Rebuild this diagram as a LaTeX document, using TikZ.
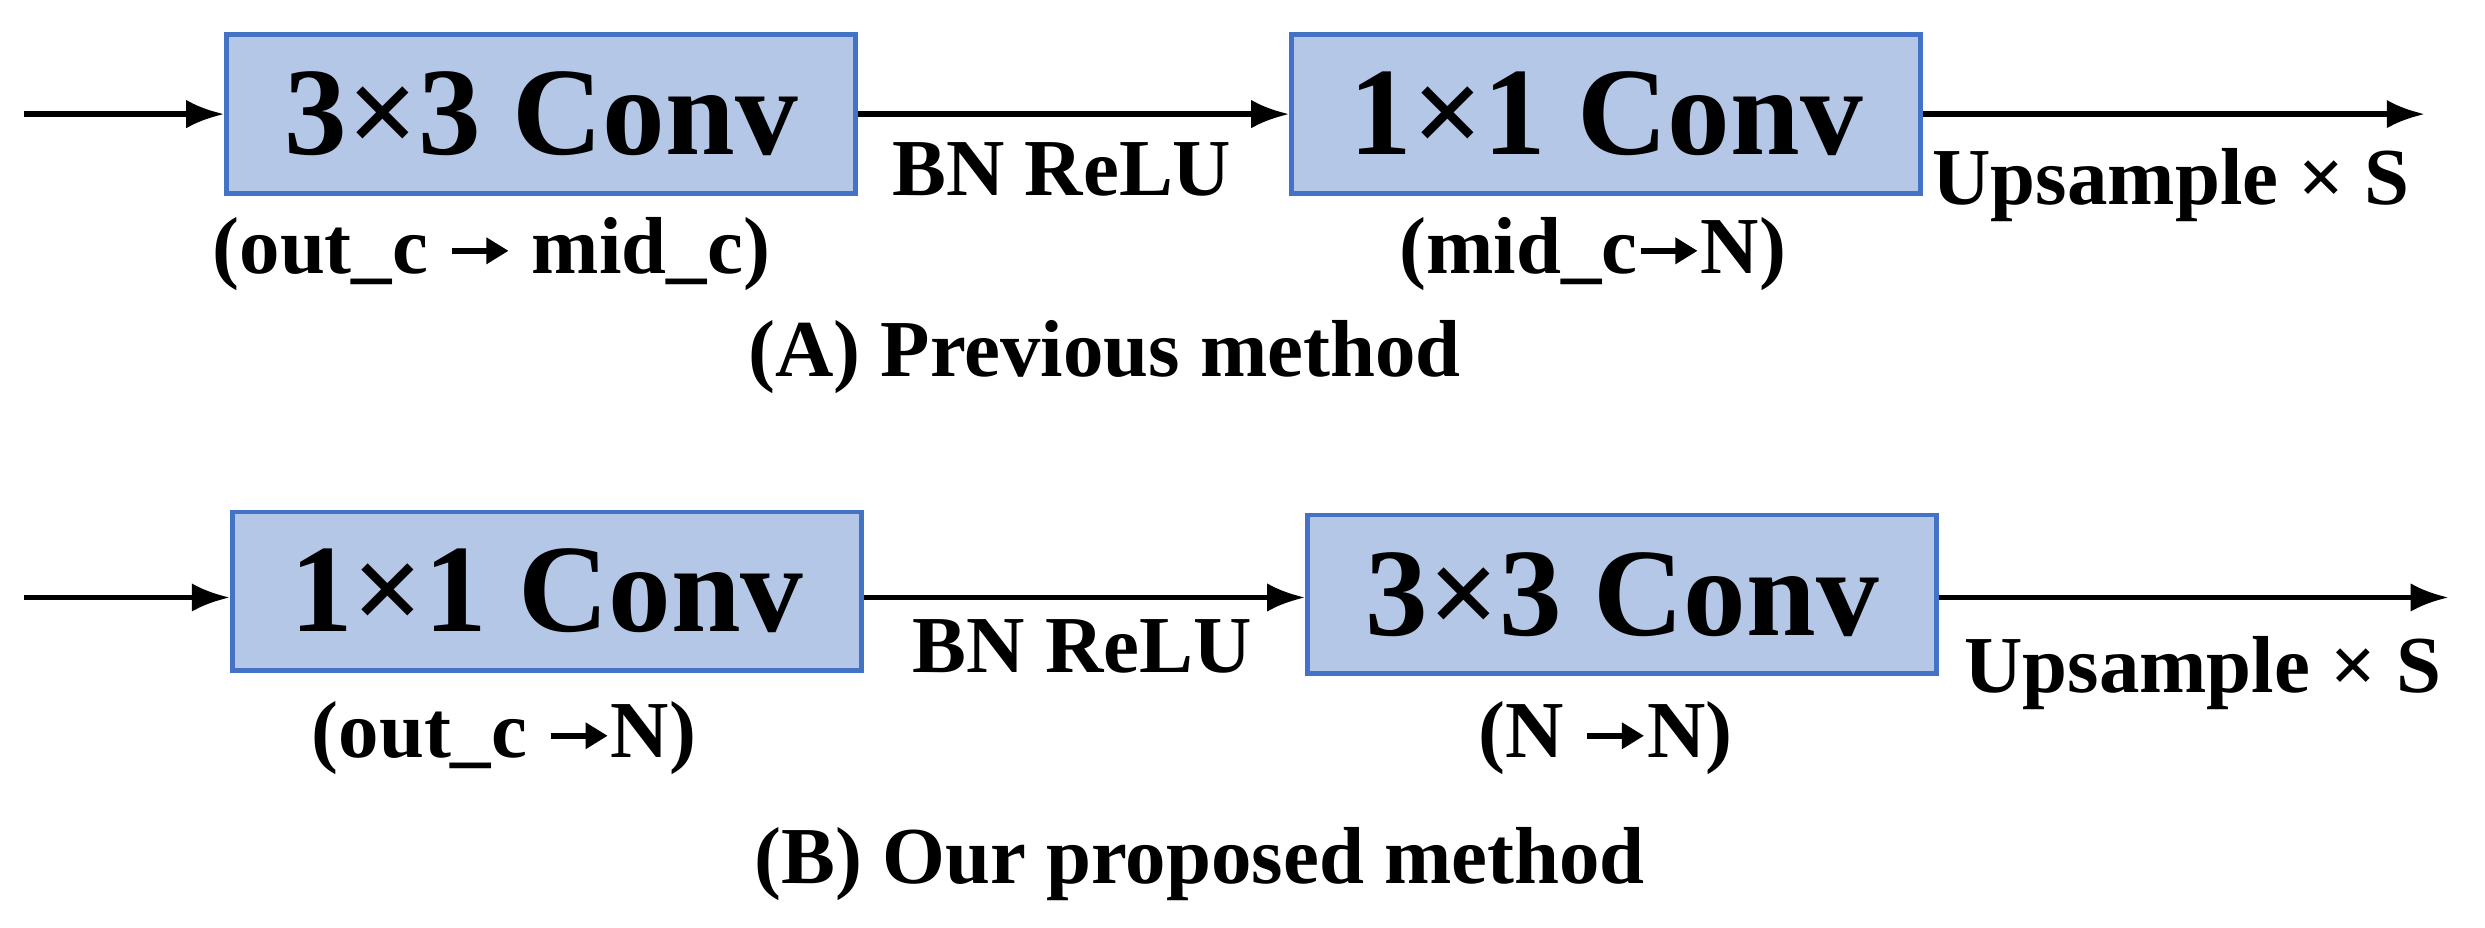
\documentclass[tikz,border=0pt]{standalone}
\usepackage{fontspec}
\setmainfont{Liberation Serif}
\usetikzlibrary{arrows.meta}
\definecolor{boxfill}{HTML}{B4C7E7}
\definecolor{boxline}{HTML}{4472C4}
\begin{document}
\begin{tikzpicture}[x=1pt,y=-1pt,
  conv/.style={draw=boxline,line width=3pt,fill=boxfill,minimum width=397pt,minimum height=100pt,inner sep=0pt,font=\fontsize{79}{85}\selectfont\bfseries},
  lab/.style={font=\fontsize{51}{58}\selectfont\bfseries,inner sep=0pt},
  arr/.style={line width=3.5pt,-{Latex[length=24pt,width=18pt]}}]
\useasboundingbox (0,0) rectangle (1568,585);
\newcommand{\rarr}{\tikz[baseline=-14pt,x=1pt,y=1pt]\draw[line width=4pt,-{Triangle[length=14pt,width=16pt]}] (0,0) -- (36,0);}
% Row A
\node[conv] (a1) at (341.5,72) {3×3 Conv};
\node[conv] (a2) at (1013.5,72) {1×1 Conv};
\coordinate (ain) at (15,72);
\coordinate (aout) at (1530,72);
\draw[arr] (ain) -- (a1.west);
\draw[arr] (a1.east) -- (a2.west);
\draw[arr] (a2.east) -- (aout);
\node[lab] (abn) at (670,107) {BN ReLU};
\node[lab] (aup) at (1370,117) {Upsample × S};
\node[lab] (ai1) at (310,160) {(out\_c \rarr\ mid\_c)};
\node[lab] (ai2) at (1005,160) {(mid\_c\rarr N)};
\node[lab] (acap) at (697,225) {(A) Previous method};
% Row B
\node[conv] (b1) at (345,373) {1×1 Conv};
\node[conv] (b2) at (1023.5,375) {3×3 Conv};
\coordinate (bin) at (15,377);
\coordinate (bout) at (1545,377);
\draw[arr] (bin) -- (b1.west|-bin);
\draw[arr] (b1.east|-bin) -- (b2.west|-bin);
\draw[arr] (b2.east|-bin) -- (bout);
\node[lab] (bbn) at (683,408) {BN ReLU};
\node[lab] (bup) at (1390,425) {Upsample × S};
\node[lab] (bi1) at (318,466) {(out\_c \rarr N)};
\node[lab] (bi2) at (1013,466) {(N \rarr N)};
\node[lab] (bcap) at (757,545) {(B) Our proposed method};
\end{tikzpicture}
\end{document}
